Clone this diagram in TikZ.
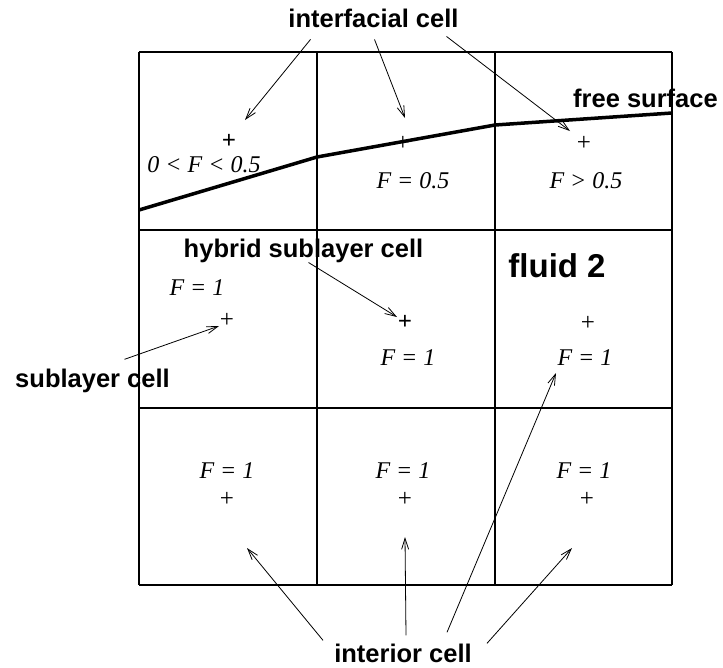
\documentclass[tikz,border=0pt]{standalone}
\usepackage{fontspec}
\setmainfont{Liberation Serif}
\setsansfont{Liberation Sans}
\usetikzlibrary{arrows.meta,positioning}

\begin{document}
\begin{tikzpicture}[
    x=1pt, y=-1pt,
    grid/.style={line width=2.2pt},
    surf/.style={line width=3.5pt, line join=round},
    lbl/.style={anchor=base, inner sep=0pt, font=\sffamily\bfseries\fontsize{25.5}{28}\selectfont},
    val/.style={anchor=base, inner sep=0pt, font=\itshape\fontsize{24}{26}\selectfont},
    ctr/.style={inner sep=0pt, font=\fontsize{25}{26}\selectfont},
    arr/.style={-{Straight Barb[length=11pt,width=7pt]}, line width=0.8pt}
]
    \useasboundingbox (0,0) rectangle (723,667);

    \foreach \k in {139,317,495,672} {
        \draw[grid] (\k,52) -- (\k,585);
        \draw[grid] (139,\k-87) -- (672,\k-87);
    }
    \draw[surf] (139,210) -- (317,157) -- (495,125) -- (672,113);

    \node[ctr] (c11) at (229,141) {\bfseries +};
    \node[ctr] (c12) at (403,143) {+};
    \node[ctr] (c13) at (584,143) {+};
    \node[ctr] (c21) at (227,320) {+};
    \node[ctr] (c22) at (405,322) {\bfseries +};
    \node[ctr] (c23) at (588,323) {+};
    \node[ctr] (c31) at (227,499) {+};
    \node[ctr] (c32) at (405,499) {+};
    \node[ctr] (c33) at (587,499) {+};

    \node[val] (v11) at (204,172) {0 < F < 0.5};
    \node[val] (v12) at (413,188) {F = 0.5};
    \node[val] (v13) at (586,188) {F > 0.5};
    \node[val] (v21) at (197,295) {F = 1};
    \node[val] (v22) at (408,365) {F = 1};
    \node[val] (v23) at (585,365) {F = 1};
    \node[val] (v31) at (227,478) {F = 1};
    \node[val] (v32) at (403,478) {F = 1};
    \node[val] (v33) at (584,478) {F = 1};

    \node[lbl] (ifc) at (373.5,27) {interfacial cell};
    \node[lbl] (fs) at (645.5,107) {free surface};
    \node[lbl] (hyb) at (303.5,257) {hybrid sublayer cell};
    \node[lbl] (sub) at (92.5,387) {sublayer cell};
    \node[lbl, font=\sffamily\bfseries\fontsize{33}{36}\selectfont] (fl2) at (557,277) {fluid 2};
    \node[lbl] (int) at (403,662) {interior cell};

    \coordinate (t1) at (245,120);
    \coordinate (t2) at (405,118);
    \coordinate (t3) at (570,131);
    \coordinate (t4) at (397,317);
    \coordinate (t5) at (219,326);
    \coordinate (t6) at (247,548);
    \coordinate (t7) at (405,537);
    \coordinate (t8) at (556,373);
    \coordinate (t9) at (572,548);

    \draw[arr] ([shift={(-63,12)}]ifc.south) -- (t1);
    \draw[arr] ([shift={(1,12)}]ifc.south) -- (t2);
    \draw[arr] ([shift={(73,9)}]ifc.south) -- (t3);
    \draw[arr] ([shift={(5,0)}]hyb.south) -- (t4);
    \draw[arr] ([shift={(32,-9)}]sub.north) -- (t5);
    \draw[arr] ([shift={(-80,-3)}]int.north) -- (t6);
    \draw[arr] ([shift={(3,-8)}]int.north) -- (t7);
    \draw[arr] ([shift={(44,-11)}]int.north) -- (t8);
    \draw[arr] ([shift={(84,0)}]int.north) -- (t9);
\end{tikzpicture}
\end{document}
